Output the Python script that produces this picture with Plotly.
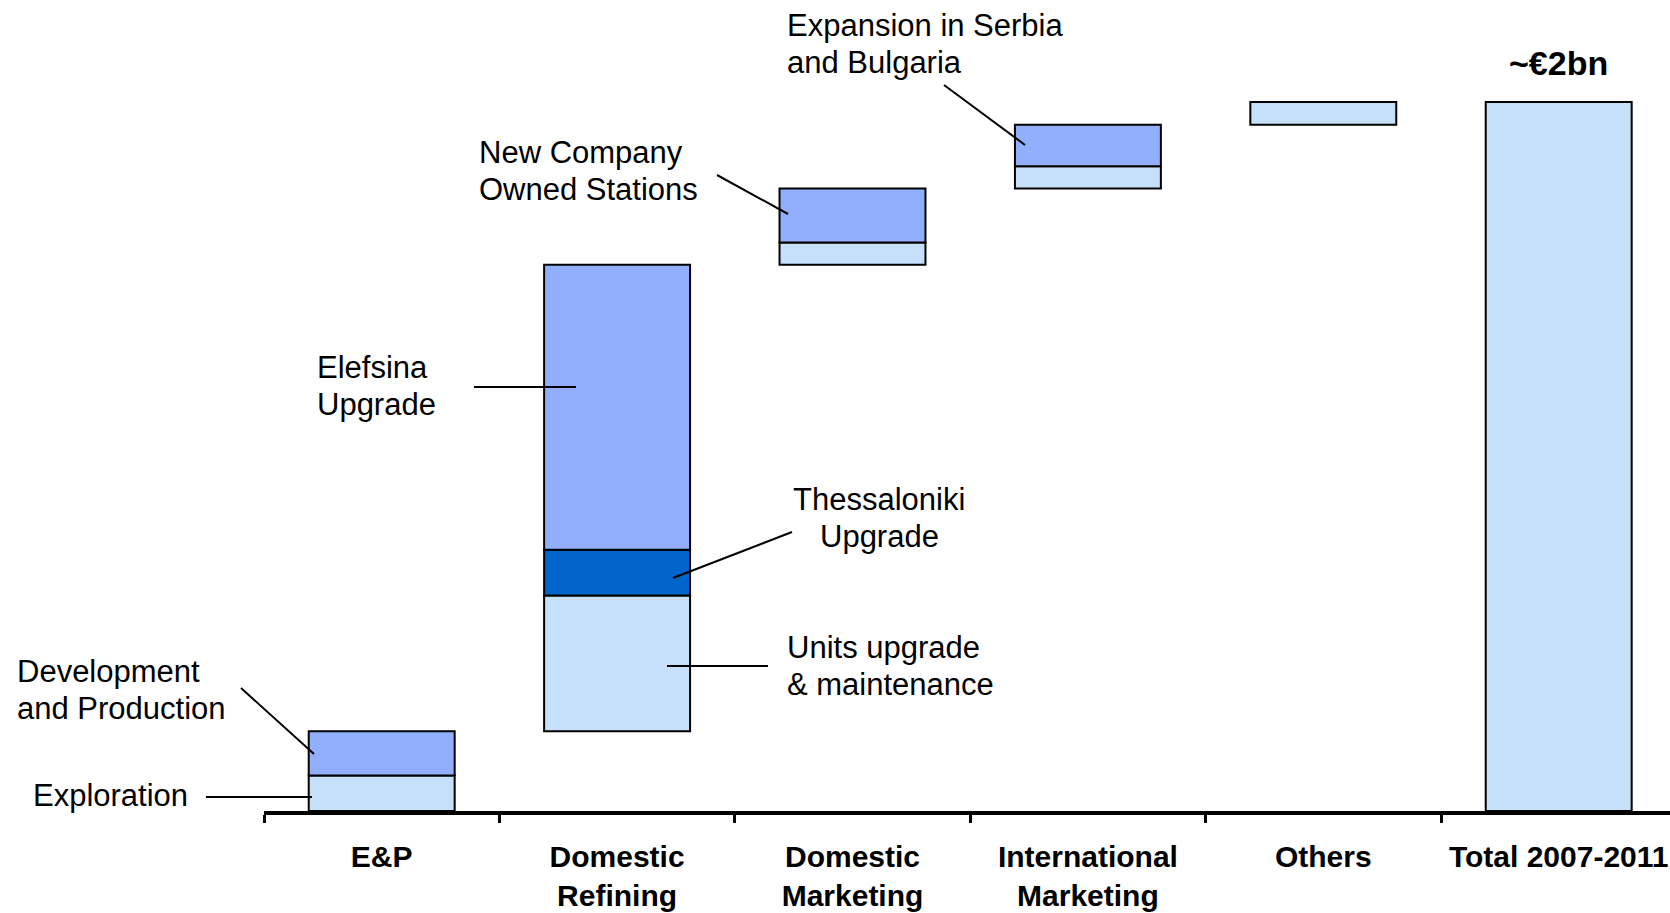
import plotly.graph_objects as go

# ---------------- data (€m) ----------------
categories = ["E&P", "Domestic<br>Refining", "Domestic<br>Marketing",
              "International<br>Marketing", "Others", "Total 2007-2011"]
ep_values = [100, 125]                 # Exploration, Development & Production
refining_values = [383, 129, 804]      # Units upgrade & maint., Thessaloniki, Elefsina
dom_marketing_values = [63, 152]       # other, New Company Owned Stations
intl_marketing_values = [63, 117]      # other, Expansion in Serbia & Bulgaria
others_values = [64]
total_label = "~€2bn"

LIGHT = "#C6E0FA"
MID = "#92AFFE"
DARK = "#0066CC"

groups = [
    (categories[0], ep_values, [LIGHT, MID]),
    (categories[1], refining_values, [LIGHT, DARK, MID]),
    (categories[2], dom_marketing_values, [LIGHT, MID]),
    (categories[3], intl_marketing_values, [LIGHT, MID]),
    (categories[4], others_values, [LIGHT]),
]

W, H = 1670, 913
ML, MR, MT, MB = 264, 0, 10, 102
PW, PH = W - ML - MR, H - MT - MB
BASE_PY = H - MB
CAT_PX = 235.4
xmax = -0.5 + PW / CAT_PX

fig = go.Figure()
running = 0
for cat, vals, cols in groups:
    for v, c in zip(vals, cols):
        fig.add_trace(go.Bar(x=[cat], y=[v], base=[running], width=0.62,
                             marker=dict(color=c, line=dict(color="black", width=2)),
                             showlegend=False, hoverinfo="skip"))
        running += v
total = running
fig.add_trace(go.Bar(x=[categories[5]], y=[total], base=[0], width=0.62,
                     marker=dict(color=LIGHT, line=dict(color="black", width=2)),
                     showlegend=False, hoverinfo="skip"))

# y scale: total maps to pixel row 102
ymax = total * PH / (BASE_PY - 102)


def P(px, py):
    return (px - ML) / PW, (BASE_PY - py) / PH


FONT = "Liberation Sans, Arial, sans-serif"
annotations = []
LINE_GAP = 37


def label(lines, px, py, anchor="left", size=31, bold=False):
    n = len(lines)
    for i, t in enumerate(lines):
        yy = py + (i - (n - 1) / 2) * LINE_GAP
        x, y = P(px, yy)
        if bold:
            t = "<b>" + t + "</b>"
        annotations.append(dict(text=t, x=x, y=y, xref="paper", yref="paper",
                                xanchor=anchor, yanchor="middle", showarrow=False,
                                font=dict(family=FONT, size=size, color="black")))


shapes = []


def leader(x0, y0, x1, y1):
    a = P(x0, y0)
    b = P(x1, y1)
    shapes.append(dict(type="line", xref="paper", yref="paper",
                       x0=a[0], y0=a[1], x1=b[0], y1=b[1],
                       line=dict(color="black", width=2)))


label(["Development", "and Production"], 15, 690)
leader(241, 688, 314, 754)
label(["Exploration"], 31, 795)
leader(206, 797, 312, 797)
label(["Elefsina", "Upgrade"], 315, 386)
leader(474, 387, 576, 387)
label(["Thessaloniki", "Upgrade"], 879, 518, anchor="center")
leader(792, 532, 673, 578)
label(["Units upgrade", "& maintenance"], 785, 666)
leader(667, 666, 768, 666)
label(["New Company", "Owned Stations"], 477, 171)
leader(717, 175, 788, 214)
label(["Expansion in Serbia", "and Bulgaria"], 785, 44)
leader(944, 85, 1025, 145)
label([total_label], 1558, 63, anchor="center", size=34, bold=True)

fig.update_layout(
    width=W, height=H,
    margin=dict(l=ML, r=MR, t=MT, b=MB, pad=0),
    barmode="overlay",
    plot_bgcolor="white", paper_bgcolor="white",
    annotations=annotations, shapes=shapes,
    xaxis=dict(type="category", categoryorder="array", categoryarray=categories,
               range=[-0.5, xmax], showline=True, linecolor="black", linewidth=4,
               ticks="outside", tickson="boundaries", ticklen=8, tickwidth=3,
               tickcolor="black", showgrid=False, zeroline=False,
               ticklabelstandoff=16,
               tickfont=dict(family=FONT, size=30, color="black"),
               tickvals=categories,
               ticktext=["<b>" + c + "</b>" for c in categories]),
    yaxis=dict(visible=False, range=[0, ymax], showgrid=False, zeroline=False),
)

fig.write_html("out.html", config={"displayModeBar": False},
               post_script="document.body.style.margin='0';")
